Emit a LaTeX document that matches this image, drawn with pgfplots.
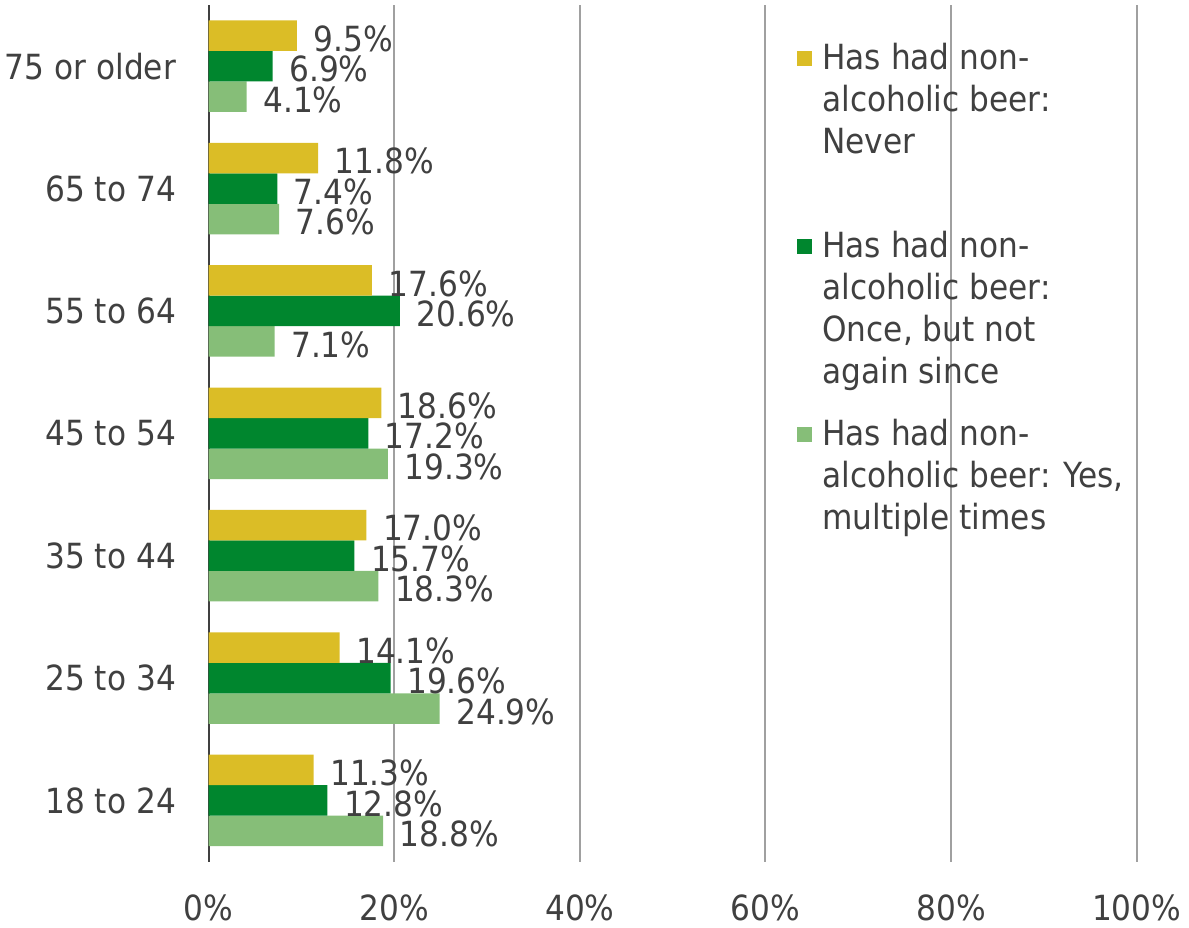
\documentclass[border=0pt]{standalone}
\usepackage{pgfplots}
\pgfplotsset{compat=1.18}
\usepackage{fontspec}
\setmainfont{DejaVu Sans Condensed}
\definecolor{cgold}{RGB}{219,189,38}
\definecolor{cdark}{RGB}{0,134,46}
\definecolor{clight}{RGB}{134,190,120}
\definecolor{textgray}{RGB}{64,64,64}
\definecolor{gridgray}{RGB}{160,160,160}
\begin{document}
\begin{tikzpicture}[font=\fontsize{10.4pt}{12.6pt}\selectfont]
\begin{axis}[
  name=ax,
  scale only axis, width=278.4pt, height=257pt,
  xbar=0pt, bar width=9.15pt,
  xmin=0, xmax=100, ymin=-0.5, ymax=6.5,
  xtick={0,20,...,100},
  xticklabel={\pgfmathprintnumber{\tick}\%},
  ytick={0,...,6},
  yticklabels={18 to 24,25 to 34,35 to 44,45 to 54,55 to 64,65 to 74,75 or older},
  /pgf/number format/assume math mode=true,
  axis lines*=left,
  x axis line style={draw=none},
  y axis line style={draw=textgray, line width=0.6pt},
  major tick length=0pt,
  xmajorgrids, grid style={draw=gridgray, line width=0.6pt},
  tick label style={color=textgray},
  xticklabel style={yshift=-6.5pt},
  yticklabel style={xshift=-6.3pt},
  nodes near coords={\pgfmathprintnumber[fixed,fixed zerofill,precision=1]{\pgfplotspointmeta}\%},
  every node near coord/.append style={anchor=west, inner sep=0pt, xshift=4.8pt, yshift=-0.9pt, color=textgray},
  reverse legend,
  legend style={at={(axis description cs:0.634,0.955)}, anchor=north west, draw=none, fill=none,
    inner sep=0pt, outer sep=0pt, column sep=0pt, row sep=0pt,
    cells={anchor=base west}, nodes={inner sep=0pt, text depth=}, text=textgray},
  legend image code/.code={\fill[#1] (0pt,1.2pt) rectangle (4.6pt,5.8pt); \path (7.6pt,1.2pt);},
]
\addplot[fill=clight, draw=none] coordinates {(18.8,0) (24.9,1) (18.3,2) (19.3,3) (7.1,4) (7.6,5) (4.1,6)};
\addlegendentry{\parbox[t][56.4pt][t]{110pt}{Has had non-\\alcoholic beer: Yes,\\multiple times}}
\addplot[fill=cdark, draw=none] coordinates {(12.8,0) (19.6,1) (15.7,2) (17.2,3) (20.6,4) (7.4,5) (6.9,6)};
\addlegendentry{\parbox[t][56.4pt][t]{110pt}{Has had non-\\alcoholic beer:\\Once, but not\\again since}}
\addplot[fill=cgold, draw=none] coordinates {(11.3,0) (14.1,1) (17.0,2) (18.6,3) (17.6,4) (11.8,5) (9.5,6)};
\addlegendentry{\parbox[t][56.4pt][t]{110pt}{Has had non-\\alcoholic beer:\\Never}}
\end{axis}
\pgfresetboundingbox
\path ([shift={(-62.6pt,-19.9pt)}]ax.south west) rectangle ([shift={(294.1pt,258.5pt)}]ax.south west);
\end{tikzpicture}
\end{document}
